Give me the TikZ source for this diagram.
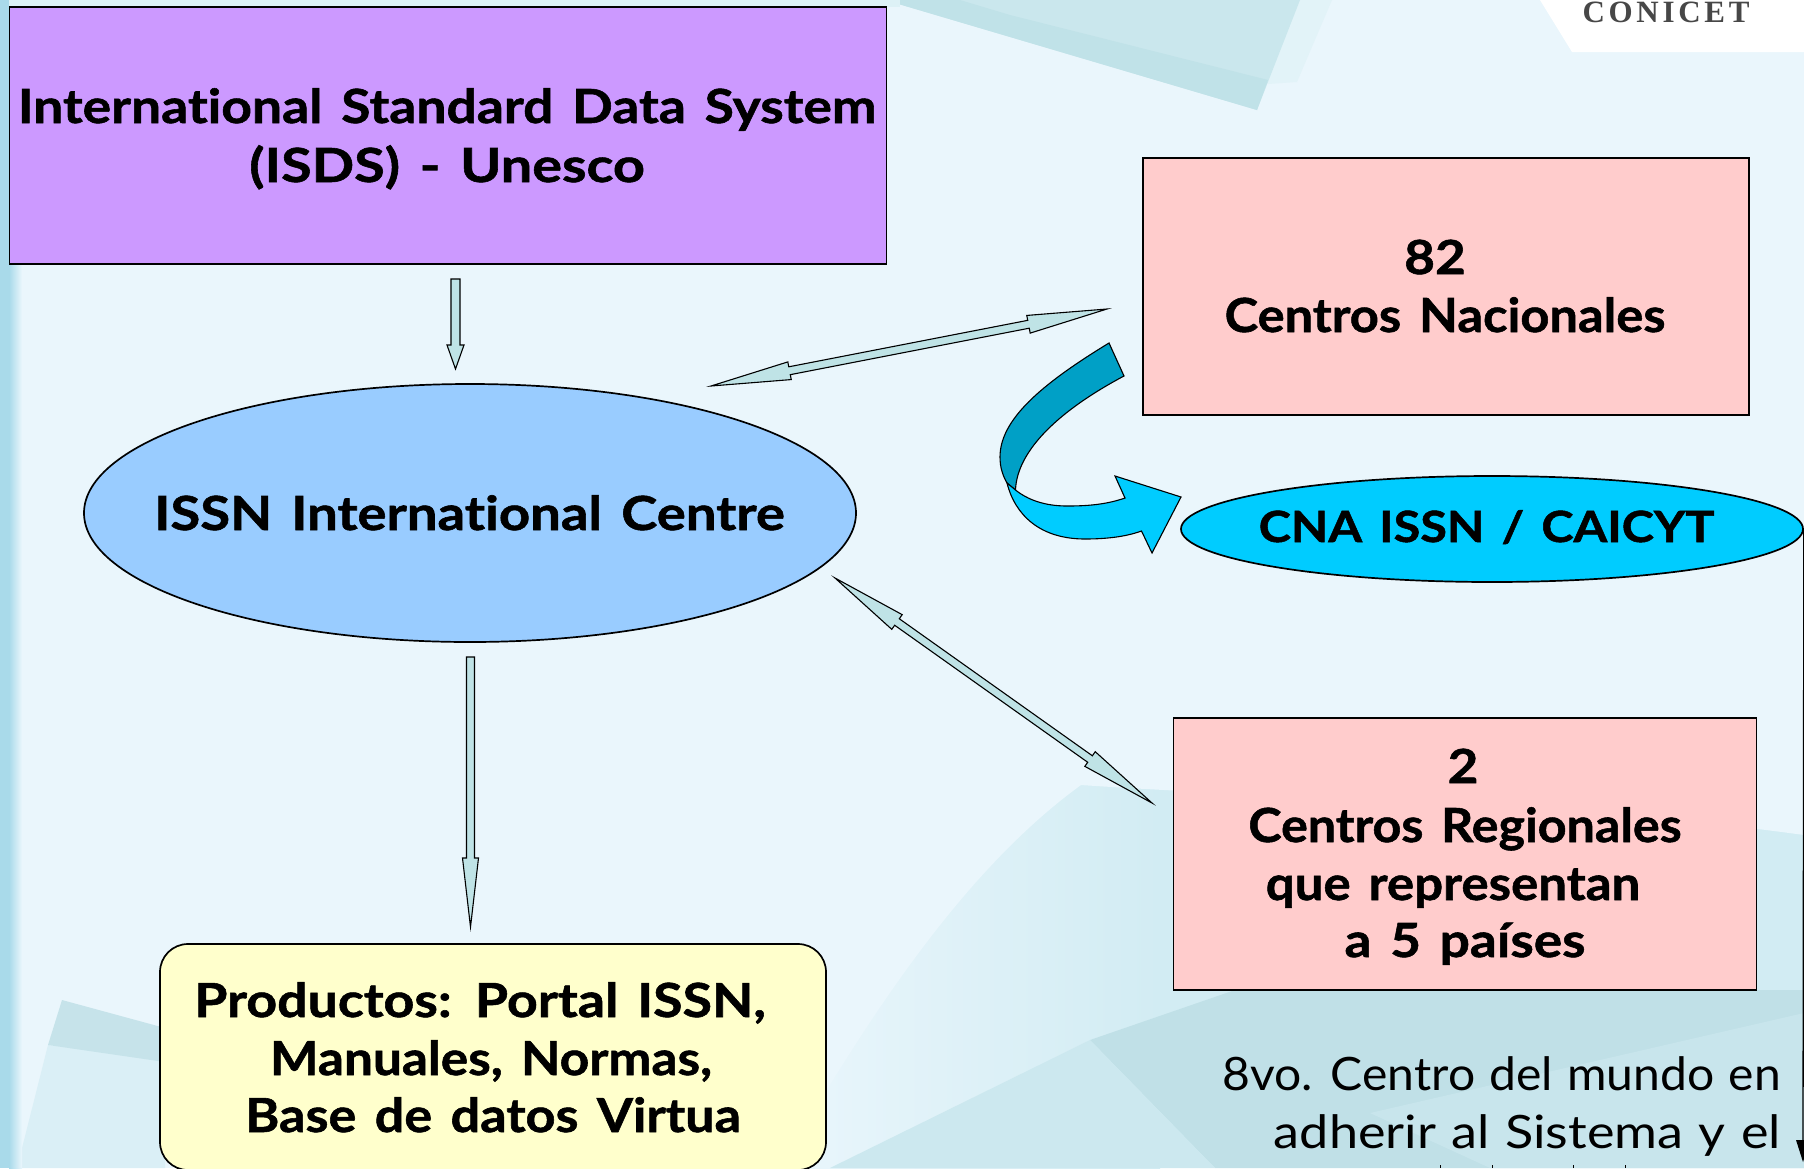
\documentclass[tikz,border=0pt]{standalone}
\usepackage{fontspec}
\usepackage{graphicx}
\usetikzlibrary{calc,shapes.geometric}
\setmainfont{Lato}[Ligatures=NoCommon,WordSpace=1.15,FakeStretch=1.07,BoldFeatures={FakeStretch=1.13,WordSpace=1.45,FakeBold=1.2}]
\newfontfamily\logofont[LetterSpace=12]{Liberation Serif}
\newcommand{\fitx}[2]{\scalebox{#1}[1]{#2}}
\definecolor{bgbase}{HTML}{EAF6FC}
\definecolor{stripc}{HTML}{A9DAEA}
\definecolor{tealA}{HTML}{C0E2E8}
\definecolor{tealB}{HTML}{DDF1F6}
\definecolor{tealC}{HTML}{D2ECF3}
\definecolor{tealD}{HTML}{C0E0E7}
\definecolor{lilac}{HTML}{CC99FF}
\definecolor{pinkbox}{HTML}{FFCCCC}
\definecolor{skyell}{HTML}{99CCFF}
\definecolor{cyanell}{HTML}{00CCFF}
\definecolor{cyandark}{HTML}{00A0C6}
\definecolor{creambox}{HTML}{FFFFCC}
\definecolor{arrowfill}{HTML}{BFE3E6}
\tikzset{
  outline/.style={draw=black,line width=1.7pt},
  rectbox/.style={outline,rectangle,inner sep=0pt},
  ellbox/.style={outline,ellipse,inner sep=0pt},
  lab/.style={anchor=base,inner sep=0pt,font=\fontsize{47}{56}\selectfont\bfseries},
  labsmall/.style={anchor=base,inner sep=0pt,font=\fontsize{43}{52}\selectfont\bfseries},
  plain/.style={anchor=base east,inner sep=0pt,font=\fontsize{46}{56}\selectfont},
  blockarrow/.style={draw=black,line width=1.1pt,fill=arrowfill,line join=miter},
}
% tail, tip, shaft half width, head half width, head length
\newcommand{\singlearrow}[5]{%
  \coordinate (#1h) at ($(#2)!#5!(#1)$);
  \draw[blockarrow] ($(#1)!#3!90:(#2)$) -- ($(#1h)!#3!90:(#2)$) -- ($(#1h)!#4!90:(#2)$) -- (#2)
    -- ($(#1h)!#4!-90:(#2)$) -- ($(#1h)!#3!-90:(#2)$) -- ($(#1)!#3!-90:(#2)$) -- cycle;}
\newcommand{\doublearrow}[5]{%
  \coordinate (#1t) at ($(#1)!#5!(#2)$);
  \coordinate (#2t) at ($(#2)!#5!(#1)$);
  \draw[blockarrow] (#1) -- ($(#1t)!#4!90:(#2)$) -- ($(#1t)!#3!90:(#2)$) -- ($(#2t)!#3!90:(#2)$) -- ($(#2t)!#4!90:(#2)$) -- (#2)
    -- ($(#2t)!#4!-90:(#2)$) -- ($(#2t)!#3!-90:(#2)$) -- ($(#1t)!#3!-90:(#2)$) -- ($(#1t)!#4!-90:(#2)$) -- cycle;}
\begin{document}
\begin{tikzpicture}[x=1pt,y=-1pt]
\useasboundingbox (0,0) rectangle (1804,1168);
\clip (0,0) rectangle (1804,1168);
% background
\fill[bgbase] (0,0) rectangle (1804,1168);
% bottom decoration: gradient, then masked above its upper edge
\fill[left color=bgbase,right color=tealC] (780,740) rectangle (1160,1168);
\fill[tealC] (1159,740) rectangle (1804,1168);
\fill[bgbase] (780,730) -- (1804,730) -- (1804,835) .. controls (1550,800) and (1300,800) .. (1081,785)
  .. controls (950,880) and (850,1050) .. (780,1168) -- cycle;
\fill[tealD] (1090,1040) -- (1235,990) -- (1804,990) -- (1804,1168) -- (1215,1168) -- cycle;
\fill[tealD!55!tealC] (1370,1113) -- (1804,1013) -- (1804,1168) -- (1490,1168) -- cycle;
\fill[tealD!35!tealC] (830,1168) -- (1090,1040) -- (1215,1168) -- cycle;
\fill[tealC!65!bgbase] (17,1168) -- (48,1045) -- (165,1060) -- (165,1168) -- cycle;
\fill[tealD!85!bgbase] (62,1000) -- (165,1028) -- (165,1062) -- (48,1045) -- cycle;
% left strip
\fill[left color=stripc,right color=bgbase] (9,0) rectangle (22,1168);
\fill[stripc] (0,0) rectangle (10,1168);
% top decoration
\fill[tealB!60!bgbase] (1200,0) -- (1332,0) -- (1297,82) -- (1268,84) -- cycle;
\fill[tealA!65!tealB] (885,0) -- (1257,110) -- (1300,0) -- cycle;
\fill[tealA] (885,0) -- (1257,110) -- (1268,80) -- (1010,15) -- (960,0) -- cycle;
\fill[tealB] (9,0) rectangle (900,7);
% CONICET corner
\fill[white] (1540,0) -- (1572,52) -- (1804,52) -- (1804,0) -- cycle;
\node[anchor=base,inner sep=0pt,text=black!72,font=\logofont\bfseries\fontsize{31}{36}\selectfont] (logo) at (1666,22) {CONICET};
% shapes
\node[rectbox,fill=lilac,minimum width=877pt,minimum height=257pt] (isds) at (448,135.5) {};
\node[rectbox,fill=pinkbox,minimum width=606pt,minimum height=257pt] (nac) at (1446,286.5) {};
\node[rectbox,fill=pinkbox,minimum width=583pt,minimum height=272pt] (reg) at (1465,854) {};
\node[ellbox,fill=skyell,minimum width=772pt,minimum height=258pt] (issn) at (470,513) {};
\node[ellbox,fill=cyanell,minimum width=622pt,minimum height=106pt] (cna) at (1492,529) {};
\node[rectbox,fill=creambox,rounded corners=28pt,minimum width=666pt,minimum height=226pt] (prod) at (493,1057) {};
% connectors
\coordinate (a1) at (455.5,279);
\coordinate (a2) at (455.5,369);
\singlearrow{a1}{a2}{4.5pt}{8.5pt}{24pt}
\coordinate (b1) at (470.5,657);
\coordinate (b2) at (470.5,927);
\singlearrow{b1}{b2}{4pt}{8pt}{69pt}
\coordinate (c1) at (711,386);
\coordinate (c2) at (1107,309);
\doublearrow{c1}{c2}{4pt}{9pt}{80pt}
\coordinate (d1) at (835,578);
\coordinate (d2) at (1152,803);
\doublearrow{d1}{d2}{4pt}{9pt}{76pt}
% curved arrow
\draw[fill=cyandark,draw=black,line width=1.1pt] (1109,343) .. controls (1040,385) and (1000,420) .. (1000,457)
  .. controls (1000,468) and (1003,476) .. (1007,483) -- (1015.5,490)
  .. controls (1017,450) and (1060,410) .. (1124,376) -- cycle;
\draw[fill=cyanell,draw=black,line width=1.1pt] (1007,483) .. controls (1015,515) and (1040,539) .. (1085,539)
  .. controls (1105,539) and (1125,537) .. (1141.5,531) -- (1152,553) -- (1181,497) -- (1115,476) -- (1125,498)
  .. controls (1105,505) and (1085,506) .. (1067,506) .. controls (1045,506) and (1028,500) .. (1015.5,490) -- cycle;
% right line with arrow
\draw[black,line width=1.3pt] (cna.east) -- (1803,1142);
\fill[black] (1796,1140) -- (1810,1140) -- (1803,1162) -- cycle;
% labels
\node[lab] (t1) at (447,123) {\fitx{1.005}{International Standard Data System}};
\node[lab] (t2) at (447,182) {\fitx{1.05}{(ISDS) - Unesco}};
\node[lab] (t3) at (469.5,530) {\fitx{1.025}{ISSN International Centre}};
\node[lab] (t4) at (1435,274) {82};
\node[lab] (t5) at (1445,332) {\fitx{0.953}{Centros Nacionales}};
\node[labsmall] (t6) at (1486.5,542) {CNA ISSN / CAICYT};
\node[lab] (t7) at (1463,783) {2};
\node[lab] (t8) at (1465,842) {\fitx{0.945}{Centros Regionales}};
\node[lab] (t9) at (1453,900) {\fitx{0.96}{que representan}};
\node[lab] (t10) at (1465,957) {a 5 países};
\node[lab] (t11) at (480,1017) {\fitx{1.01}{Productos: Portal ISSN,}};
\node[lab] (t12) at (491,1075) {\fitx{0.967}{Manuales, Normas,}};
\node[lab] (t13) at (493,1132) {\fitx{0.982}{Base de datos Virtua}};
\node[plain] (t14) at (1781,1090) {\fitx{0.976}{8vo. Centro del mundo en}};
\node[plain] (t15) at (1781,1148) {\fitx{1.06}{adherir al Sistema y el}};
\draw[black,line width=1pt] (1440,1165)--(1440,1168) (1492,1165)--(1492,1168) (1573,1165)--(1573,1168) (1625,1165)--(1625,1168);
\end{tikzpicture}
\end{document}
